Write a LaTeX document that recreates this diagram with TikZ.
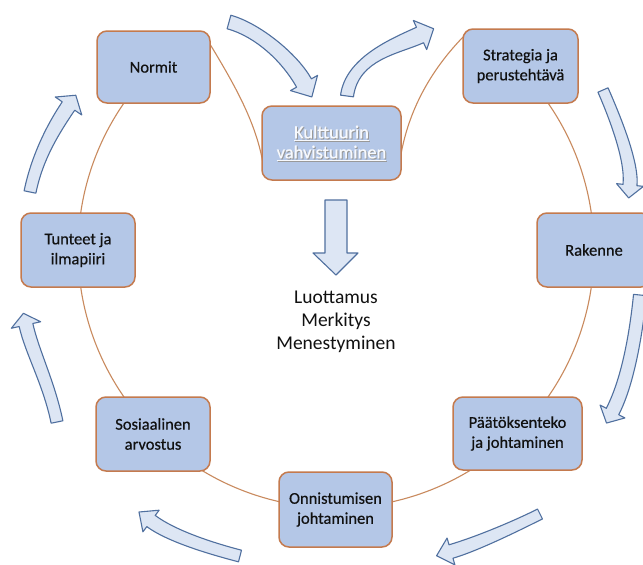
\documentclass[tikz,border=0pt]{standalone}
\usepackage{fontspec}
\setmainfont{Carlito}
\newfontfamily\boxfont{Carlito}[FakeBold=0.5]
\newfontfamily\kultfont{Carlito}[FakeBold=0.7]
\usetikzlibrary{calc}
\definecolor{boxfill}{HTML}{B4C7E7}
\definecolor{boxline}{HTML}{C47A4E}
\definecolor{ringline}{HTML}{C98A5E}
\definecolor{arrfill}{HTML}{DDE6F4}
\definecolor{arrline}{HTML}{50709F}
\definecolor{txt}{HTML}{111111}
\definecolor{kulttxt}{HTML}{F7F9FD}
\tikzset{
  box/.style={draw=boxline, line width=1.5pt, fill=boxfill, rounded corners=10pt,
    minimum width=114pt, minimum height=74pt, align=center, text=txt,
    font=\boxfont\fontsize{16.5}{20}\selectfont, inner sep=0pt},
  ring/.style={draw=ringline, line width=1.1pt},
  blockarrow/.style={draw=arrline, fill=arrfill, line width=1.1pt, line join=round},
  maintext/.style={align=center, text=txt, font=\fontsize{19.5}{23}\selectfont}
}
\newcommand{\curvarrow}[8]{%
  \coordinate (cS) at (#1); \coordinate (cP) at (#2);
  \coordinate (cQ) at (#3); \coordinate (cE) at (#4);
  \coordinate (cSA) at ($(cS)!#5!90:(cP)$);
  \coordinate (cSB) at ($(cS)!#5!-90:(cP)$);
  \coordinate (cEA) at ($(cE)!#6!-90:(cQ)$);
  \coordinate (cEB) at ($(cE)!#6!90:(cQ)$);
  \coordinate (cPA) at ($(cP)+(cSA)-(cS)$);
  \coordinate (cPB) at ($(cP)+(cSB)-(cS)$);
  \coordinate (cQA) at ($(cQ)+(cEA)-(cE)$);
  \coordinate (cQB) at ($(cQ)+(cEB)-(cE)$);
  \coordinate (cWA) at ($(cE)!#7!-90:(cQ)$);
  \coordinate (cWB) at ($(cE)!#7!90:(cQ)$);
  \coordinate (cT) at ($(cE)!-#8!(cQ)$);
  \draw[blockarrow] (cSA) .. controls (cPA) and (cQA) .. (cEA) -- (cWA) -- (cT) -- (cWB) -- (cEB) .. controls (cQB) and (cPB) .. (cSB) -- cycle;
}
\begin{document}
\begin{tikzpicture}[x=1pt, y=-1pt]
\useasboundingbox (0,0) rectangle (643,565);
\clip (0,0) rectangle (643,565);
\fill[white] (0,0) rectangle (643,565);

% ring
\draw[ring] plot[domain=-36:216, samples=160, smooth] ({336+258*cos(\x)},{250+258*sin(\x)});
% V lines at top
\coordinate (vl1) at (205,36);
\coordinate (vl2) at (264,170);
\coordinate (vr1) at (399,168);
\coordinate (vr2) at (466,34);
\draw[ring] (vl1) .. controls (235,85) and (258,125) .. (vl2);
\draw[ring] (vr1) .. controls (405,115) and (430,70) .. (vr2);

% boxes
\node[box, minimum width=113pt, minimum height=72pt] (normit) at (153.5,67) {Normit};
\node[box, minimum width=139pt] (kult) at (331.5,143) {};
\node[box, minimum width=115pt] (strat) at (520.5,66) {Strategia ja\\perustehtävä};
\node[box] (rak) at (594,250) {Rakenne};
\node[box] (tunt) at (78,250) {Tunteet ja\\ilmapiiri};
\node[box] (sos) at (153,434) {Sosiaalinen\\arvostus};
\node[box, minimum width=129pt, minimum height=73pt] (paat) at (517.5,433.5) {Päätöksenteko\\ja johtaminen};
\node[box, minimum width=113pt, minimum height=75pt] (onn) at (335.5,509.5) {Onnistumisen\\johtaminen};

% Kulttuurin text with soft shadow
\node[align=center, text=black!40, font=\kultfont\fontsize{18.5}{20}\selectfont] (kultshadow) at ($(kult)+(1,1)$) {\underline{Kulttuurin}\\\underline{vahvistuminen}};
\node[align=center, text=kulttxt, font=\kultfont\fontsize{18.5}{20}\selectfont] (kulttext) at (kult) {\underline{Kulttuurin}\\\underline{vahvistuminen}};

% center text
\node[maintext] (center) at (336,322) {Luottamus\\Merkitys\\Menestyminen};

% straight down arrow
\draw[blockarrow] (325,200) -- (347,200) -- (347,253) -- (358,253) -- (336,275) -- (313,253) -- (325,253) -- cycle;

% curved arrows
\curvarrow{229,22}{258,30}{290,58}{304,83}{7pt}{8.5pt}{15.5pt}{16pt}
\curvarrow{347,96}{352,58}{396,46}{420,35}{6.5pt}{8.5pt}{16pt}{15pt}
\curvarrow{603,90}{613,113}{632.5,160}{630,185}{5.5pt}{7pt}{13.5pt}{13pt}
\curvarrow{640,295}{636.5,330}{628.6,380.4}{612.5,411.5}{6.5pt}{7pt}{14pt}{13pt}
\curvarrow{540,514}{513,527.5}{475,544.5}{451,551.5}{5.5pt}{7pt}{14pt}{15pt}
\curvarrow{240,556}{211,548.5}{171,536}{151,521}{6pt}{7pt}{13.5pt}{15pt}
\curvarrow{57,422}{49,383}{32,352}{26,325}{6pt}{7pt}{15pt}{12pt}
\curvarrow{30,192}{37,157.7}{52.8,129.2}{68.5,106}{6pt}{7.5pt}{16pt}{13pt}
\end{tikzpicture}
\end{document}
